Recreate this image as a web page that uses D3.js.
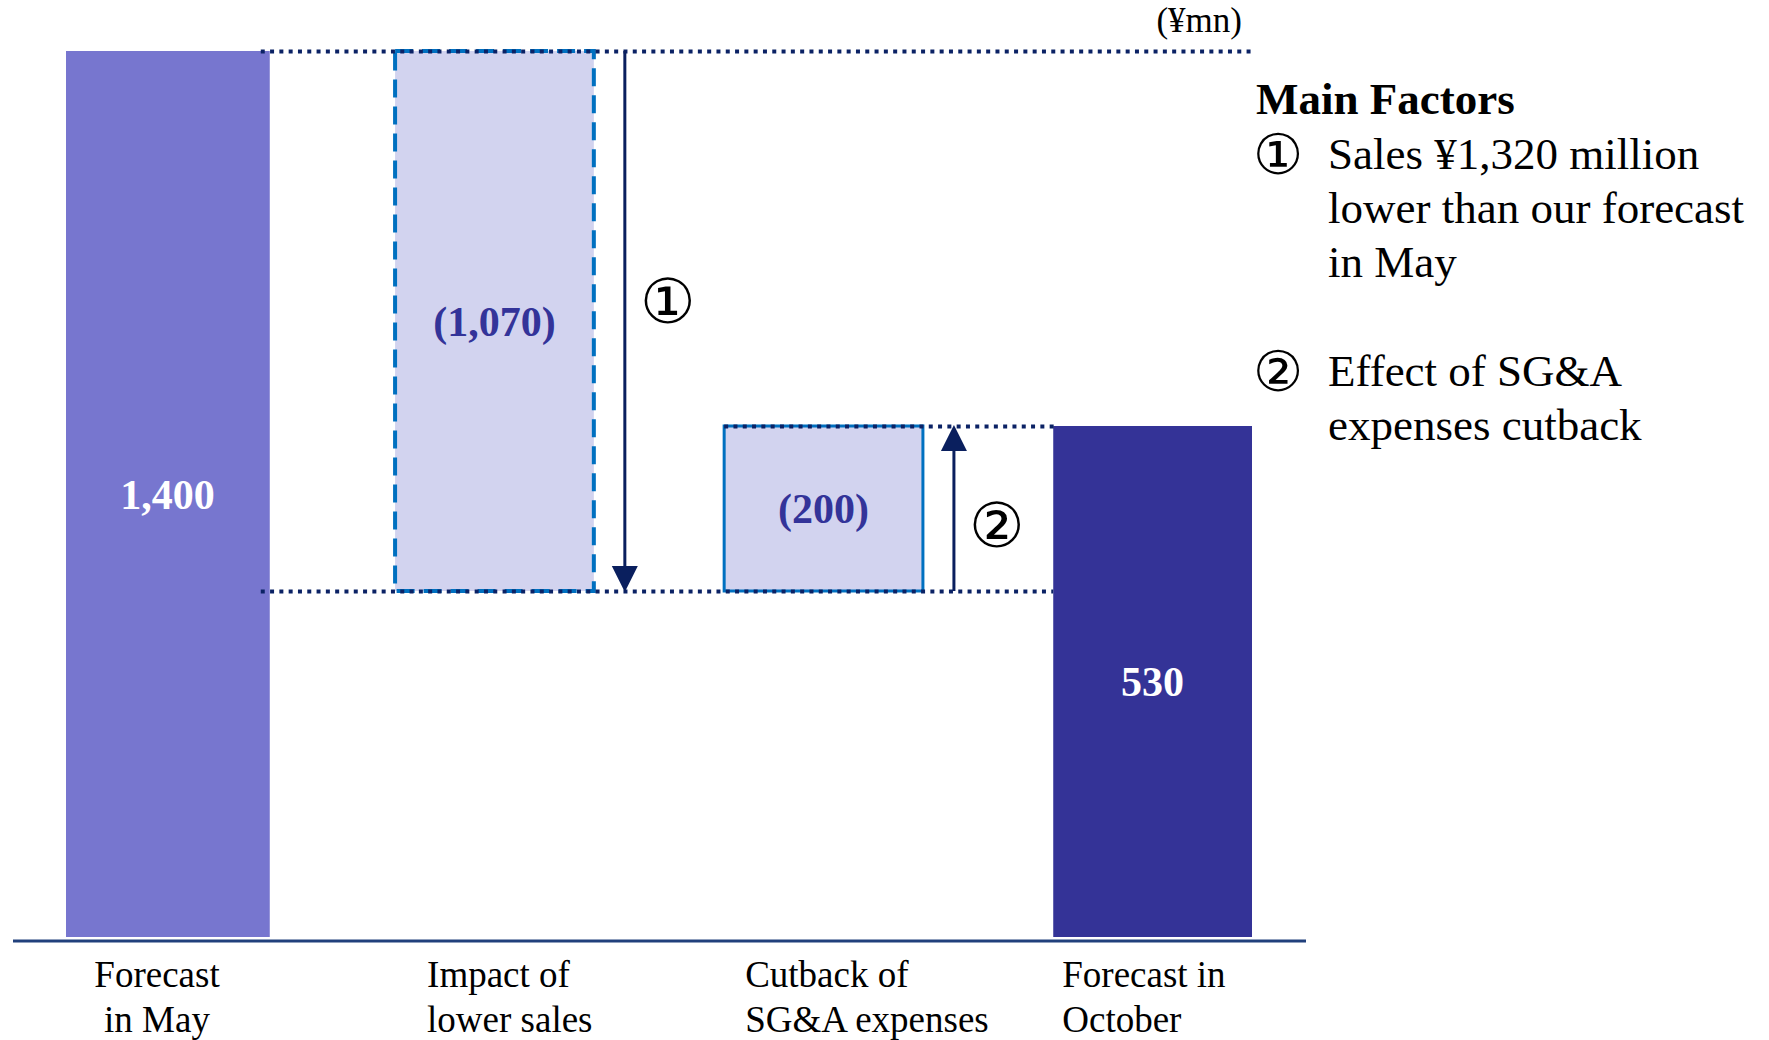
<!DOCTYPE html>
<html>
<head>
<meta charset="utf-8">
<script src="https://cdn.jsdelivr.net/npm/d3@7"></script>
<style>
  body { margin: 0; background: #fff; }
  svg text { font-family: "Liberation Serif", "Times New Roman", serif; }
</style>
</head>
<body>
<div id="chart"></div>
<script>
"use strict";

// waterfall: forecast in May -> forecast in October (not drawn to scale in the original)
const categories = ["may", "sales", "sga", "october"];
const categoryLabels = [["Forecast", "in May"], ["Impact of", "lower sales"], ["Cutback of", "SG&A expenses"], ["Forecast in", "October"]];
const barStart = [0, 1400, 330, 0];
const barEnd = [1400, 330, 530, 530];
const barKind = ["total", "decrease", "increase", "total"];
const valueLabels = ["1,400", "(1,070)", "(200)", "530"];
const unitLabel = "(¥mn)";
const factorTitle = "Main Factors";
const factorMarks = ["①", "②"];
const factorLines = [["Sales ¥1,320 million", "lower than our forecast", "in May"], ["Effect of SG&A", "expenses cutback"]];

const W = 1769, H = 1040;

const svg = d3.select("#chart")
  .append("svg")
    .attr("width", W)
    .attr("height", H);

const x = d3.scaleBand()
    .domain(categories)
    .range([66, 1252])
    .paddingInner(0.396)
    .paddingOuter(0);

// piecewise scale, the source slide squeezes the upper part of the axis
const levels = Array.from(new Set(barStart.concat(barEnd))).sort((a, b) => a - b);
const y = d3.scaleLinear()
    .domain(levels)
    .range([937, 591, 426, 51]);

const bars = categories.map((c, i) => ({
  cat: c, lo: Math.min(barStart[i], barEnd[i]), hi: Math.max(barStart[i], barEnd[i]),
  kind: barKind[i], label: valueLabels[i], from: barStart[i], to: barEnd[i]
}));

svg.selectAll("rect.bar")
  .data(bars)
  .join("rect")
    .attr("class", "bar")
    .attr("x", d => x(d.cat))
    .attr("y", d => y(d.hi))
    .attr("width", (d, i) => i === 0 ? x.bandwidth() + 5 : x.bandwidth())  // first bar is a touch wider on the slide
    .attr("height", d => y(d.lo) - y(d.hi))
    .attr("fill", (d, i) => d.kind === "total" ? (i === 0 ? "#7776cf" : "#343397") : "#d2d3ef")
    .attr("stroke", d => d.kind === "total" ? "none" : "#0070c0")
    .attr("stroke-width", d => d.kind === "decrease" ? 4 : 3)
    .attr("stroke-dasharray", d => d.kind === "decrease" ? "18,9" : null);

// dotted guide lines between bar levels
const guides = [
  {v: 1400, x1: x("may") + x.bandwidth() - 4, x2: x("october") + x.bandwidth()},
  {v: 330, x1: x("may") + x.bandwidth() - 4, x2: x("october")},
  {v: 530, x1: x("sga"), x2: x("october") + 2}
];
svg.selectAll("line.guide")
  .data(guides)
  .join("line")
    .attr("class", "guide")
    .attr("x1", d => d.x1)
    .attr("x2", d => d.x2)
    .attr("y1", d => y(d.v) + 0.5)
    .attr("y2", d => y(d.v) + 0.5)
    .attr("stroke", "#0b2265")
    .attr("stroke-width", 4)
    .attr("stroke-dasharray", "4,5.3");

// arrows for the two changes
const changes = bars.filter(d => d.kind !== "total");
const arrowColor = "#0a1f5e";
changes.forEach((d, k) => {
  const ax = x(d.cat) + x.bandwidth() + 31;
  const y0 = y(d.from), y1 = y(d.to);
  const dir = y1 > y0 ? 1 : -1;
  const headLen = 25, headHalf = 13;
  svg.append("line")
    .attr("x1", ax).attr("x2", ax)
    .attr("y1", y0).attr("y2", y1 - dir * headLen)
    .attr("stroke", arrowColor)
    .attr("stroke-width", 3);
  svg.append("path")
    .attr("d", d3.line()([[ax - headHalf, y1 - dir * headLen], [ax + headHalf, y1 - dir * headLen], [ax, y1 + dir]]) + "Z")
    .attr("fill", arrowColor);
  svg.append("text")
    .attr("x", ax + 43)
    .attr("y", k === 0 ? 301 : 525)
    .attr("dy", "0.36em")
    .attr("text-anchor", "middle")
    .style("font-family", "'DejaVu Sans', sans-serif")
    .style("font-size", "62px")
    .attr("fill", "#000")
    .text(factorMarks[k]);
});

// value labels
svg.selectAll("text.value")
  .data(bars)
  .join("text")
    .attr("class", "value")
    .attr("x", (d, i) => x(d.cat) + x.bandwidth() / 2 + (i === 0 ? 2 : 0))
    .attr("y", d => (y(d.lo) + y(d.hi)) / 2)
    .attr("dy", "0.35em")
    .attr("text-anchor", "middle")
    .attr("fill", d => d.kind === "total" ? "#fff" : "#333399")
    .style("font-size", "42px")
    .style("font-weight", "bold")
    .text(d => d.label);

// baseline
svg.append("line")
    .attr("x1", 13).attr("x2", 1306)
    .attr("y1", 941).attr("y2", 941)
    .attr("stroke", "#21407c")
    .attr("stroke-width", 3);

// category labels (first one centred, rest left aligned like the slide)
const labelOffset = [null, 32, 21, 9];
svg.selectAll("text.cat")
  .data(categories)
  .join("text")
    .attr("class", "cat")
    .attr("x", (d, i) => i === 0 ? 157 : x(d) + labelOffset[i])
    .attr("y", 987)
    .attr("text-anchor", (d, i) => i === 0 ? "middle" : "start")
    .style("font-size", "37px")
    .attr("fill", "#000")
    .selectAll("tspan")
    .data((d, i) => categoryLabels[i])
    .join("tspan")
      .attr("x", function() { return d3.select(this.parentNode).attr("x"); })
      .attr("dy", (d, j) => j === 0 ? 0 : 45)
      .text(d => d);

// unit
svg.append("text")
    .attr("x", 1242).attr("y", 32)
    .attr("text-anchor", "end")
    .style("font-size", "35px")
    .text(unitLabel);

// main factors notes
svg.append("text")
    .attr("x", 1256).attr("y", 114)
    .style("font-size", "45px")
    .style("font-weight", "bold")
    .text(factorTitle);

const noteTop = [169, 386];
factorLines.forEach((lines, k) => {
  svg.append("text")
    .attr("x", 1278).attr("y", noteTop[k] - 15)
    .attr("dy", "0.36em")
    .attr("text-anchor", "middle")
    .style("font-family", "'DejaVu Sans', sans-serif")
    .style("font-size", "56px")
    .text(factorMarks[k]);
  svg.append("text")
    .attr("y", noteTop[k])
    .style("font-size", "45px")
    .selectAll("tspan")
    .data(lines)
    .join("tspan")
      .attr("x", 1328)
      .attr("dy", (d, j) => j === 0 ? 0 : 54)
      .text(d => d);
});
</script>
</body>
</html>
